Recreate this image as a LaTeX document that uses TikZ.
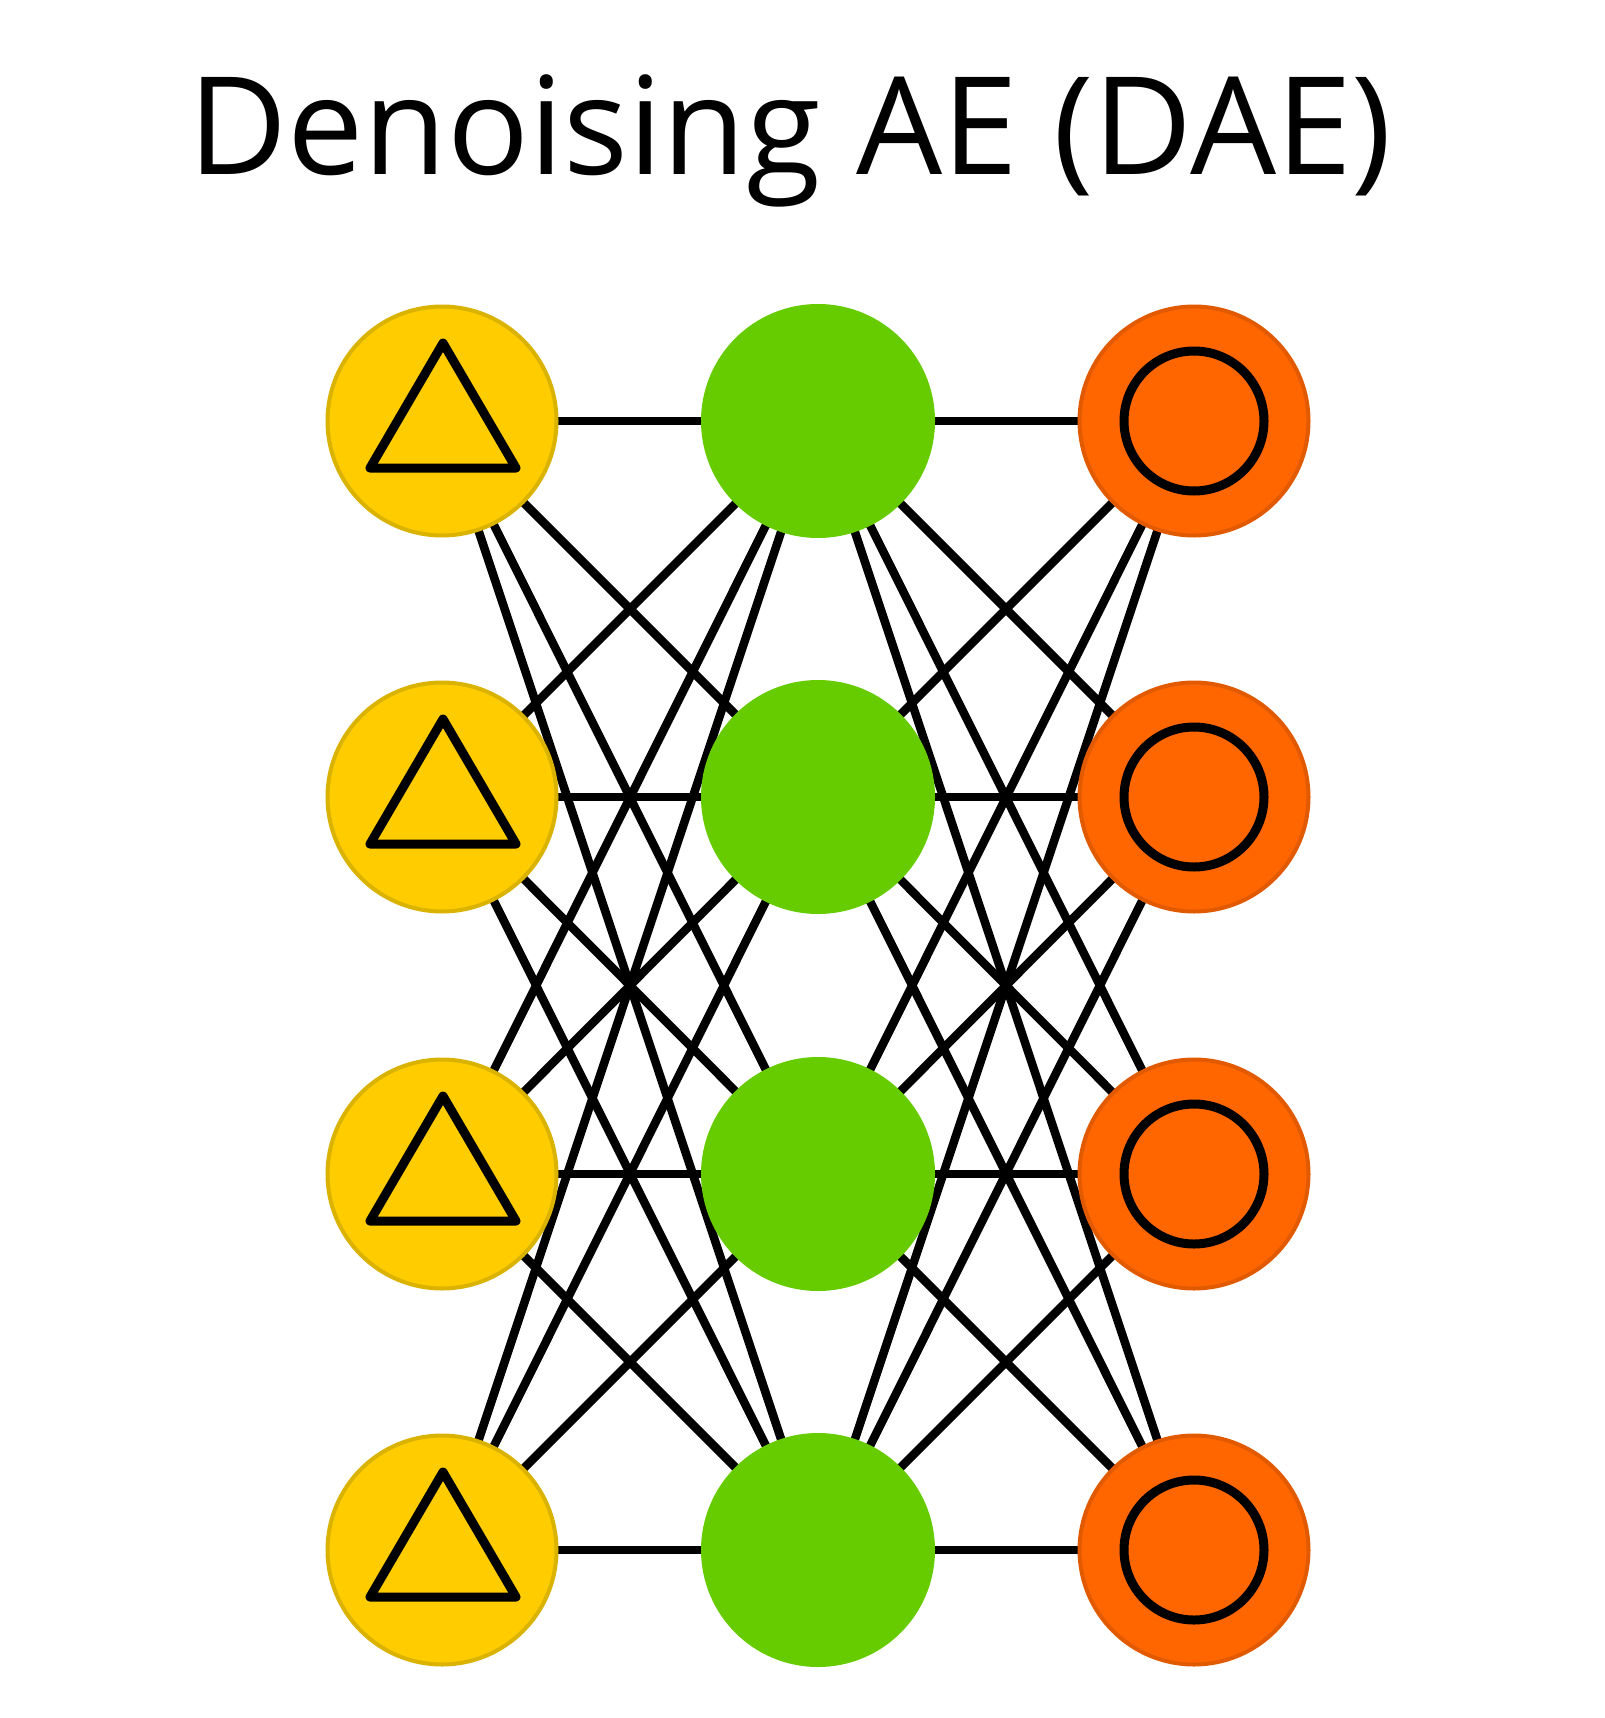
\documentclass[tikz,border=0pt]{standalone}
\usepackage{fontspec}
\setmainfont{Open Sans}
\usetikzlibrary{calc}
\begin{document}
\begin{tikzpicture}[x=1pt,y=-1pt,
  inp/.style={circle,fill={rgb,255:red,255;green,204;blue,0},draw={rgb,255:red,218;green,178;blue,0},line width=4pt,minimum size=229pt,inner sep=0pt},
  hid/.style={circle,fill={rgb,255:red,102;green,204;blue,0},minimum size=234pt,inner sep=0pt},
  outp/.style={circle,fill={rgb,255:red,255;green,102;blue,0},draw={rgb,255:red,226;green,90;blue,0},line width=4pt,minimum size=229pt,inner sep=0pt},
  conn/.style={line width=8.5pt,black},
  glyph/.style={line width=9pt,black,line join=round}]
\useasboundingbox (0,0) rectangle (1604,1718);
\node[anchor=base,font=\fontsize{136}{160}\selectfont] (title) at (790,175) {Denoising AE (DAE)};
\foreach \i/\y in {1/421,2/797,3/1174,4/1550}{
  \coordinate (a\i) at (442,\y);
  \coordinate (b\i) at (818,\y);
  \coordinate (c\i) at (1194,\y);
}
\foreach \i in {1,...,4}{\foreach \j in {1,...,4}{
  \draw[conn] (a\i) -- (b\j);
  \draw[conn] (b\i) -- (c\j);
}}
\foreach \i in {1,...,4}{
  \node[inp] (in\i) at (a\i) {};
  \node[hid] (h\i) at (b\i) {};
  \node[outp] (out\i) at (c\i) {};
  \draw[glyph] ($(in\i)+(1,-78)$) -- ($(in\i)+(-72,47)$) -- ($(in\i)+(74,47)$) -- cycle;
  \draw[glyph] (out\i) circle (70);
}
\end{tikzpicture}
\end{document}
